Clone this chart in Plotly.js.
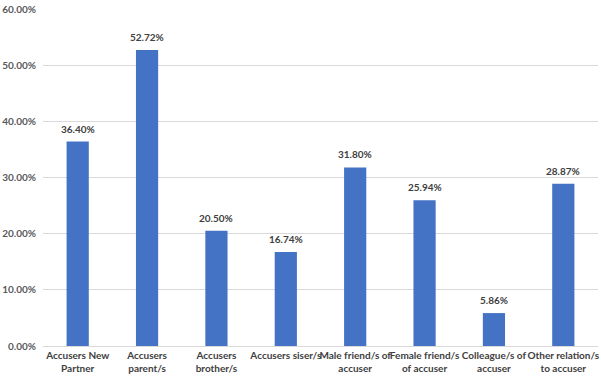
<!DOCTYPE html>
<html>
<head>
<meta charset="utf-8">
<script src="https://cdn.plot.ly/plotly-3.0.1.min.js"></script>
<style>html,body{margin:0;padding:0;background:#fff;}#chart{width:601px;height:378px;}</style>
</head>
<body>
<div id="chart"></div>
<script>
const categories = ["Accusers New<br>Partner", "Accusers<br>parent/s", "Accusers<br>brother/s", "Accusers siser/s", "Male friend/s of<br>accuser", "Female friend/s<br>of accuser", "Colleague/s of<br>accuser", "Other relation/s<br>to accuser"];
const values = [36.40, 52.72, 20.50, 16.74, 31.80, 25.94, 5.86, 28.87];
const tickVals = [0, 10, 20, 30, 40, 50, 60];
const tickText = tickVals.map(v => v.toFixed(2) + "%");

const FONT = "Lato, 'Open Sans', sans-serif";

const trace = {
  type: "bar",
  x: categories,
  y: values,
  marker: {color: "#4472C4"},
  hoverinfo: "none"
};

const annotations = categories.map((c, i) => ({
  x: c, y: values[i], xref: "x", yref: "y",
  text: "<b>" + values[i].toFixed(2) + "%</b>",
  showarrow: false, yanchor: "bottom", yshift: 5,
  font: {family: FONT, size: 10, color: "#404040"}
}));

const layout = {
  width: 601, height: 378,
  margin: {l: 43, r: 3, t: 9, b: 32},
  paper_bgcolor: "#fff", plot_bgcolor: "#fff",
  bargap: 0.68,
  showlegend: false,
  annotations: annotations,
  font: {family: FONT, size: 10, color: "#595959"},
  xaxis: {
    type: "category",
    tickangle: 0,
    automargin: false,
    tickfont: {family: FONT, size: 10, color: "#404040", weight: "bold"},
    showgrid: false, ticks: "", showline: false, zeroline: false,
    ticklabelstandoff: 2
  },
  yaxis: {
    range: [0, 60],
    automargin: false,
    tickvals: tickVals, ticktext: tickText,
    tickfont: {family: FONT, size: 10, color: "#595959", weight: "bold"},
    showgrid: true, gridcolor: "#D9D9D9", gridwidth: 1,
    zeroline: true, zerolinecolor: "#D9D9D9", zerolinewidth: 1,
    ticks: "", showline: false, ticklabelstandoff: 6
  }
};

Plotly.newPlot("chart", [trace], layout, {displayModeBar: false, staticPlot: true});
</script>
</body>
</html>
